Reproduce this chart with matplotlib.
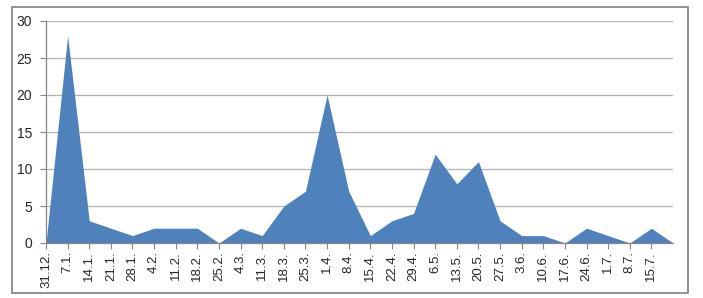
"""
Weekly counts area chart (31.12. - 22.7.)
"""

import numpy as np
import matplotlib.pyplot as plt
from matplotlib.patches import Rectangle

# Category labels (the last week has no visible label)
week_labels = ['31.12.', '7.1.', '14.1.', '21.1.', '28.1.', '4.2.', '11.2.', '18.2.',
               '25.2.', '4.3.', '11.3.', '18.3.', '25.3.', '1.4.', '8.4.', '15.4.',
               '22.4.', '29.4.', '6.5.', '13.5.', '20.5.', '27.5.', '3.6.', '10.6.',
               '17.6.', '24.6.', '1.7.', '8.7.', '15.7.']

counts = [0, 28, 3, 2, 1, 2, 2, 2, 0, 2, 1, 5, 7, 20, 7, 1, 3, 4, 12, 8, 11, 3,
          1, 1, 0, 2, 1, 0, 2, 0]

y_ticks = [0, 5, 10, 15, 20, 25, 30]

plt.rcParams['font.family'] = ['Liberation Sans', 'DejaVu Sans']

fig = plt.figure(figsize=(7.03, 2.98), dpi=100)

# outer chart frame
frame = Rectangle((12 / 703, 1 - 293 / 298), 676 / 703, 286 / 298,
                  transform=fig.transFigure, fill=False,
                  edgecolor='#808080', linewidth=1.2)
fig.patches.append(frame)

ax = fig.add_axes([46 / 703, 1 - 243 / 298, 627 / 703, 222 / 298])

x = np.arange(len(counts))
ax.fill_between(x, counts, 0, color='#4F81BD', linewidth=0)

ax.set_xlim(0, len(counts) - 1)
ax.set_ylim(0, 30)

# axis ticks and labels
ax.set_yticks(y_ticks)
ax.set_yticklabels([str(v) for v in y_ticks], fontsize=10, color='#262626')
ax.set_xticks(np.arange(len(week_labels)))
ax.set_xticklabels(week_labels, rotation=90, fontsize=9.5, color='#262626')
ax.tick_params(axis='y', length=4, width=0.8, color='#868686', pad=6)
ax.tick_params(axis='x', length=4, width=0.8, color='#868686', pad=2)

# gridlines
ax.grid(axis='y', color='#B3B3B3', linewidth=0.9)
ax.set_axisbelow(True)

for side in ['top', 'right']:
    ax.spines[side].set_visible(False)
for side in ['left', 'bottom']:
    ax.spines[side].set_color('#868686')
    ax.spines[side].set_linewidth(0.9)

plt.savefig('out.png', dpi=100)
